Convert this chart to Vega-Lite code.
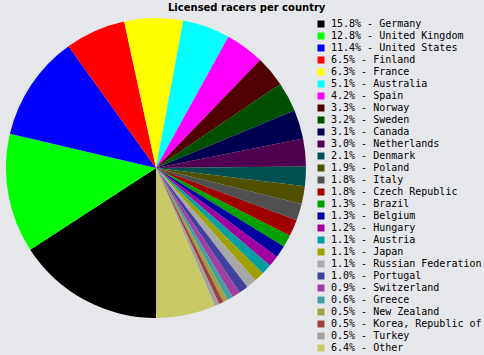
{
  "$schema": "https://vega.github.io/schema/vega-lite/v6.json",
  "autosize": {"type": "none"},
  "padding": {"left": 0, "top": 15, "right": 172, "bottom": 34},
  "width": 312,
  "height": 306,
  "background": "#e6e7eb",
  "title": {
    "text": "Licensed racers per country",
    "anchor": "start",
    "dx": 168,
    "offset": 2,
    "font": "DejaVu Sans",
    "fontSize": 10,
    "fontWeight": "bold",
    "color": "#000000"
  },
  "data": {
    "values": [
      {"idx": 1, "country": "Germany", "pct": 15.8, "label": "15.8% - Germany"},
      {"idx": 2, "country": "United Kingdom", "pct": 12.8, "label": "12.8% - United Kingdom"},
      {"idx": 3, "country": "United States", "pct": 11.4, "label": "11.4% - United States"},
      {"idx": 4, "country": "Finland", "pct": 6.5, "label": "6.5% - Finland"},
      {"idx": 5, "country": "France", "pct": 6.3, "label": "6.3% - France"},
      {"idx": 6, "country": "Australia", "pct": 5.1, "label": "5.1% - Australia"},
      {"idx": 7, "country": "Spain", "pct": 4.2, "label": "4.2% - Spain"},
      {"idx": 8, "country": "Norway", "pct": 3.3, "label": "3.3% - Norway"},
      {"idx": 9, "country": "Sweden", "pct": 3.2, "label": "3.2% - Sweden"},
      {"idx": 10, "country": "Canada", "pct": 3.1, "label": "3.1% - Canada"},
      {"idx": 11, "country": "Netherlands", "pct": 3.0, "label": "3.0% - Netherlands"},
      {"idx": 12, "country": "Denmark", "pct": 2.1, "label": "2.1% - Denmark"},
      {"idx": 13, "country": "Poland", "pct": 1.9, "label": "1.9% - Poland"},
      {"idx": 14, "country": "Italy", "pct": 1.8, "label": "1.8% - Italy"},
      {"idx": 15, "country": "Czech Republic", "pct": 1.8, "label": "1.8% - Czech Republic"},
      {"idx": 16, "country": "Brazil", "pct": 1.3, "label": "1.3% - Brazil"},
      {"idx": 17, "country": "Belgium", "pct": 1.3, "label": "1.3% - Belgium"},
      {"idx": 18, "country": "Hungary", "pct": 1.2, "label": "1.2% - Hungary"},
      {"idx": 19, "country": "Austria", "pct": 1.1, "label": "1.1% - Austria"},
      {"idx": 20, "country": "Japan", "pct": 1.1, "label": "1.1% - Japan"},
      {"idx": 21, "country": "Russian Federation", "pct": 1.1, "label": "1.1% - Russian Federation"},
      {"idx": 22, "country": "Portugal", "pct": 1.0, "label": "1.0% - Portugal"},
      {"idx": 23, "country": "Switzerland", "pct": 0.9, "label": "0.9% - Switzerland"},
      {"idx": 24, "country": "Greece", "pct": 0.6, "label": "0.6% - Greece"},
      {"idx": 25, "country": "New Zealand", "pct": 0.5, "label": "0.5% - New Zealand"},
      {"idx": 26, "country": "Korea, Republic of", "pct": 0.5, "label": "0.5% - Korea, Republic of"},
      {"idx": 27, "country": "Turkey", "pct": 0.5, "label": "0.5% - Turkey"},
      {"idx": 28, "country": "Other", "pct": 6.4, "label": "6.4% - Other"}
    ]
  },
  "mark": {"type": "arc", "outerRadius": 150, "stroke": null},
  "encoding": {
    "theta": {"field": "pct", "type": "quantitative", "stack": true, "scale": {"range": [3.14159265, 9.42477796]}},
    "order": {"field": "idx", "type": "quantitative", "sort": "ascending"},
    "color": {
      "field": "label",
      "type": "nominal",
      "scale": {
        "domain": ["15.8% - Germany", "12.8% - United Kingdom", "11.4% - United States", "6.5% - Finland", "6.3% - France", "5.1% - Australia", "4.2% - Spain", "3.3% - Norway", "3.2% - Sweden", "3.1% - Canada", "3.0% - Netherlands", "2.1% - Denmark", "1.9% - Poland", "1.8% - Italy", "1.8% - Czech Republic", "1.3% - Brazil", "1.3% - Belgium", "1.2% - Hungary", "1.1% - Austria", "1.1% - Japan", "1.1% - Russian Federation", "1.0% - Portugal", "0.9% - Switzerland", "0.6% - Greece", "0.5% - New Zealand", "0.5% - Korea, Republic of", "0.5% - Turkey", "6.4% - Other"],
        "range": ["#000000", "#00ff00", "#0000ff", "#ff0000", "#ffff00", "#00ffff", "#ff00ff", "#500000", "#005000", "#000050", "#500050", "#005050", "#505000", "#505050", "#a00000", "#00a000", "#0000a0", "#a000a0", "#00a0a0", "#a0a000", "#a8a8a8", "#4040a0", "#a040a0", "#40a0a0", "#a0a040", "#a04040", "#a0a0a0", "#c8c864"]
      },
      "legend": {
        "title": null,
        "orient": "none",
        "legendX": 316,
        "legendY": 4,
        "padding": 0,
        "symbolType": "square",
        "symbolSize": 49,
        "symbolStrokeWidth": 0,
        "symbolOffset": 0,
        "labelFont": "DejaVu Sans Mono",
        "labelFontSize": 10,
        "labelColor": "#000000",
        "labelOffset": 5,
        "labelLimit": 200,
        "rowPadding": 2,
        "symbolLimit": 40
      }
    }
  },
  "config": {"view": {"stroke": null}}
}
